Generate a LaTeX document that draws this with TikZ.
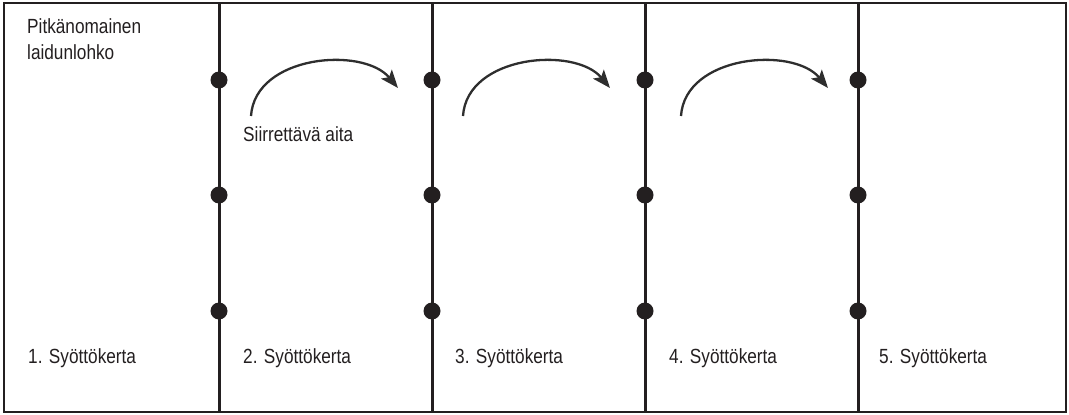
\documentclass[tikz,border=0pt]{standalone}
\usepackage{fontspec}
\setmainfont[FakeStretch=0.84]{Liberation Sans}
\usetikzlibrary{arrows.meta}
\definecolor{ink}{HTML}{231F20}
\definecolor{arrowink}{HTML}{2E2E2E}
\begin{document}
\begin{tikzpicture}[x=1pt,y=-1pt,
  lbl/.style={anchor=base west,inner sep=0pt,font=\fontsize{20.5}{24}\selectfont,text=ink},
  fence/.style={draw=ink,line width=3pt},
  post/.style={circle,fill=ink,inner sep=0pt,minimum size=17pt},
  move/.style={draw=arrowink,line width=2.3pt,-{Stealth[length=18pt,width=14pt,inset=4pt]}}]
\useasboundingbox (0,0) rectangle (1069,415);
\draw[draw=ink,line width=2.4pt] (4,3) rectangle (1066,412);
\foreach \i/\x in {1/219,2/432,3/645,4/858}{
  \coordinate (t\i) at (\x,3);
  \coordinate (b\i) at (\x,412);
  \draw[fence] (t\i) -- (b\i);
  \node[post] (p\i a) at (\x,80) {};
  \node[post] (p\i b) at (\x,195) {};
  \node[post] (p\i c) at (\x,311) {};
}
\node[lbl] (title1) at (27,33) {Pitkänomainen};
\node[lbl] (title2) at (27,59) {laidunlohko};
\node[lbl] (siir) at (243,141) {Siirrettävä aita};
\foreach \i/\x in {1/28,2/243,3/455,4/669,5/879}{
  \node[lbl] (s\i) at (\x,363) {\i. Syöttökerta};
}
\foreach \i/\x in {1/251,2/463,3/681}{
  \coordinate (a\i s) at (\x,116);
  \coordinate (a\i e) at (\x+147,88);
  \draw[move] (a\i s) .. controls (\x+4,55) and (\x+112,46) .. (a\i e);
}
\end{tikzpicture}
\end{document}
